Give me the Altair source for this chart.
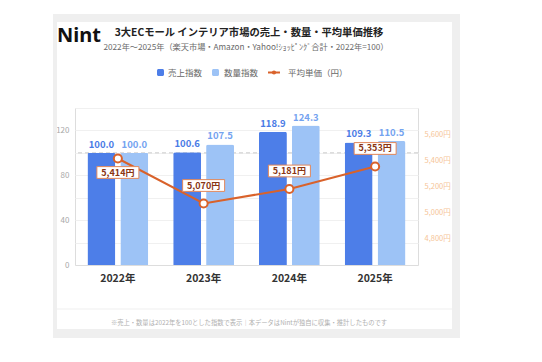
import altair as alt
import pandas as pd

# ---- data ----
years = ["2022年", "2023年", "2024年", "2025年"]
series_names = ["売上指数", "数量指数"]
sales_index = [100.0, 100.6, 118.9, 109.3]
quantity_index = [100.0, 107.5, 124.3, 110.5]
avg_price = [5414, 5070, 5181, 5353]
price_label_side = ["below", "above", "above", "above"]
left_ticks = [0, 20, 40, 60, 80, 100, 120, 140]
right_ticks = [4800, 5000, 5200, 5400, 5600]

TITLE = "3大ECモール インテリア市場の売上・数量・平均単価推移"
SUBTITLE = "2022年～2025年（楽天市場・Amazon・Yahoo!ｼｮｯﾋﾟﾝｸﾞ合計・2022年=100）"
FOOTER = "※売上・数量は2022年を100とした指数で表示｜本データはNintが独自に収集・推計したものです"

FONT = "Noto Sans CJK JP"
C_SALES = "#4D7EE8"
C_QTY = "#9DC3F6"
C_SALES_LBL = "#4A7BE6"
C_QTY_LBL = "#74A3F0"
C_LINE = "#D9622B"
C_PRICE_TXT = "#8A3512"
C_RIGHT = "#F6C597"

bars_df = pd.DataFrame({
    "year": years * 2,
    "series": [series_names[0]] * 4 + [series_names[1]] * 4,
    "value": sales_index + quantity_index,
})
bars_df["label"] = bars_df["value"].map(lambda v: f"{v:.1f}")

price_df = pd.DataFrame({"year": years, "price": avg_price, "side": price_label_side})
price_df["label"] = price_df["price"].map(lambda v: f"{v:,}円")

ref_df = pd.DataFrame({"value": [100]})
one = pd.DataFrame({"k": [0]})

W, H = 343, 157

x_axis = alt.Axis(title=None, labelAngle=0, ticks=False, domain=True,
                  domainColor="#dddddd", labelFontWeight="bold",
                  labelFontSize=10.5, labelColor="#333333", labelPadding=8,
                  labelFont=FONT)
x_scale = alt.Scale(paddingInner=0.29, paddingOuter=0.145)


def X():
    return alt.X("year:N", sort=years, scale=x_scale, axis=x_axis)


left_axis = alt.Axis(title=None, values=left_ticks,
                     labelExpr="datum.value % 40 == 0 ? datum.label : ''",
                     ticks=False, domain=False, grid=True, gridColor="#f0f0f0",
                     labelColor="#a8a8a8", labelFontSize=8, labelPadding=6,
                     labelOverlap=False, labelFont=FONT)
left_scale = alt.Scale(domain=[0, 140], nice=False, zero=True)


def YL():
    return alt.Y("value:Q", scale=left_scale, axis=left_axis)


right_axis = alt.Axis(title=None, orient="right", values=right_ticks,
                      labelExpr="format(datum.value, ',') + '円'",
                      grid=False, ticks=False, domain=False,
                      labelColor=C_RIGHT, labelFontSize=7.5, labelPadding=6,
                      labelOverlap=False, labelFont=FONT)
right_scale = alt.Scale(domain=[4600, 5800], nice=False, zero=False)


def YR():
    return alt.Y("price:Q", scale=right_scale, axis=right_axis)


bars = alt.Chart(bars_df).mark_bar(cornerRadiusTopLeft=2, cornerRadiusTopRight=2).encode(
    x=X(),
    xOffset=alt.XOffset("series:N", sort=series_names, scale=alt.Scale(paddingInner=0.15)),
    y=YL(),
    color=alt.Color("series:N", scale=alt.Scale(domain=series_names, range=[C_SALES, C_QTY]),
                    legend=None),
)

bar_labels = alt.Chart(bars_df).mark_text(baseline="bottom", dy=-3, fontWeight="bold",
                                          fontSize=9.5, font=FONT).encode(
    x=X(),
    xOffset=alt.XOffset("series:N", sort=series_names, scale=alt.Scale(paddingInner=0.15)),
    y=YL(),
    text="label:N",
    color=alt.condition(alt.datum.series == series_names[0], alt.value(C_SALES_LBL),
                        alt.value(C_QTY_LBL)),
)

ref_rule = alt.Chart(ref_df).mark_rule(color="#cccccc", strokeDash=[4, 3], strokeWidth=1).encode(
    y=YL()
)

left_layer = alt.layer(ref_rule, bars, bar_labels)

base_p = alt.Chart(price_df)
line = base_p.mark_line(color=C_LINE, strokeWidth=2).encode(x=X(), y=YR())

BOX = "M-1,-0.28L1,-0.28L1,0.28L-1,0.28Z"
box_below = base_p.transform_filter(alt.datum.side == "below").mark_point(
    shape=BOX, size=42 * 42, filled=True, fill="white", stroke="#E2875A",
    strokeWidth=1, opacity=1, yOffset=14).encode(x=X(), y=YR())
box_above = base_p.transform_filter(alt.datum.side == "above").mark_point(
    shape=BOX, size=42 * 42, filled=True, fill="white", stroke="#E2875A",
    strokeWidth=1, opacity=1, yOffset=-18).encode(x=X(), y=YR())
txt_below = base_p.transform_filter(alt.datum.side == "below").mark_text(
    fontWeight="bold", fontSize=9, color=C_PRICE_TXT, dy=14, font=FONT).encode(
    x=X(), y=YR(), text="label:N")
txt_above = base_p.transform_filter(alt.datum.side == "above").mark_text(
    fontWeight="bold", fontSize=9, color=C_PRICE_TXT, dy=-18, font=FONT).encode(
    x=X(), y=YR(), text="label:N")
pts = base_p.mark_point(shape="circle", filled=True, fill="white", stroke=C_LINE,
                        strokeWidth=2, size=65, opacity=1).encode(x=X(), y=YR())

right_layer = alt.layer(line, box_below, box_above, txt_below, txt_above, pts)

# ---- decoration (card frame, titles, legend, footer) ----
def rect(x1, x2, y1, y2, color, r=0):
    return alt.Chart(one).mark_rect(color=color, cornerRadius=r).encode(
        x=alt.value(x1), x2=alt.value(x2), y=alt.value(y1), y2=alt.value(y2))

def text(t, x, y, size, color, weight="normal", align="left", font=FONT):
    return alt.Chart(one).mark_text(align=align, baseline="middle", fontSize=size,
                                    color=color, fontWeight=weight, font=font).encode(
        x=alt.value(x), y=alt.value(y), text=alt.value(t))

GRAY = "#efefef"
frame = [
    rect(-22, 385, -94, -86, GRAY),
    rect(-22, 385, 221, 230, GRAY),
    rect(-22, -18, -94, 230, GRAY),
    rect(377, 385, -94, 230, GRAY),
    rect(-18, 377, 200.5, 201.5, "#f0f0f0"),
]

deco = [
    text("Nint", -18, -72, 20, "#111111", "bold", font="Noto Sans"),
    text(TITLE, 174, -75, 10.3, "#222222", "bold", align="center"),
    text(SUBTITLE, 171, -60, 8.2, "#6a6a6a", align="center"),
    rect(82, 89, -39, -32, C_SALES, 1.5),
    text(series_names[0], 93, -35.5, 8.5, "#666666"),
    rect(137, 144, -39, -32, C_QTY, 1.5),
    text(series_names[1], 149, -35.5, 8.5, "#666666"),
    alt.Chart(one).mark_rule(color=C_LINE, strokeWidth=2).encode(
        x=alt.value(193), x2=alt.value(205), y=alt.value(-35.5)),
    alt.Chart(one).mark_circle(color=C_LINE, size=18, opacity=1).encode(
        x=alt.value(199), y=alt.value(-35.5)),
    text("平均単価（円）", 213, -35.5, 8.5, "#666666"),
    text(FOOTER, 174, 215, 6.3, "#b0b0b0", align="center"),
]

chart = alt.layer(*frame, left_layer, right_layer, *deco).resolve_scale(
    y="independent"
).properties(
    width=W, height=H,
    autosize=alt.AutoSizeParams(type="none"),
    padding={"left": 67, "top": 100, "right": 100, "bottom": 80},
    background="white",
).configure_view(stroke=None).configure(font=FONT)

chart.save("out.html", embed_options={"renderer": "svg", "actions": False})
